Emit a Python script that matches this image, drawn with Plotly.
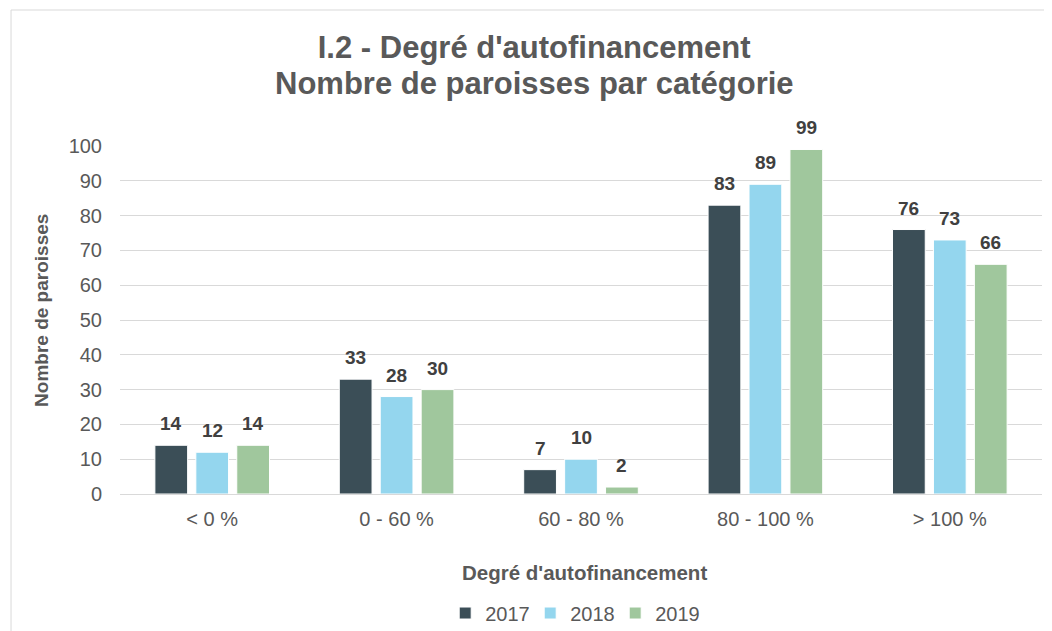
import plotly.graph_objects as go

# === Data ===
categories = ["< 0 %", "0 - 60 %", "60 - 80 %", "80 - 100 %", "> 100 %"]
years = ["2017", "2018", "2019"]
values_2017 = [14, 33, 7, 83, 76]
values_2018 = [12, 28, 10, 89, 73]
values_2019 = [14, 30, 2, 99, 66]
y_ticks = [0, 10, 20, 30, 40, 50, 60, 70, 80, 90, 100]

series = [values_2017, values_2018, values_2019]
colors = ["#3B4E57", "#94D6EE", "#A0C79D"]

FONT = "Liberation Sans, Arial, sans-serif"
GREY = "#595959"

# page body has an 8px margin, so the figure is 8px smaller than the window
W, H = 1044, 623
M_L, M_R, M_T, M_B = 112, 10, 138, 137
plot_w = W - M_L - M_R
BARGAP = 0.334
slot_px = plot_w / len(categories) * (1 - BARGAP) / len(years)

fig = go.Figure()
for year, vals, col in zip(years, series, colors):
    fig.add_trace(go.Bar(
        x=categories,
        y=vals,
        name=year,
        marker=dict(color=col, line=dict(color="white", width=1)),
    ))

# value labels above each bar, placed through the axes
labels = []
for i, vals in enumerate(series):
    offset = (i - 1) * slot_px
    for cat, v in zip(categories, vals):
        labels.append(dict(
            x=cat, y=v, xref="x", yref="y",
            text=f"<b>{v}</b>", showarrow=False,
            xshift=offset, yanchor="bottom", yshift=9,
            font=dict(family=FONT, size=19, color="#404040"),
        ))

fig.update_layout(
    width=W,
    height=H,
    margin=dict(l=M_L, r=M_R, t=M_T, b=M_B, autoexpand=False),
    paper_bgcolor="white",
    plot_bgcolor="white",
    barmode="group",
    bargap=BARGAP,
    bargroupgap=0.2,
    font=dict(family=FONT, color=GREY),
    title=dict(
        text="<b>I.2 - Degré d'autofinancement</b>",
        x=0.504, xanchor="center",
        y=1 - 39 / H, yanchor="middle", yref="container",
        font=dict(family=FONT, size=31, color=GREY),
    ),
    xaxis=dict(
        showline=True, linecolor="#D9D9D9", linewidth=1,
        tickfont=dict(size=20, color=GREY),
        showgrid=False,
        ticklabelstandoff=7,
    ),
    yaxis=dict(
        range=[0, 100],
        tickvals=y_ticks,
        showgrid=True, gridcolor="#D9D9D9", gridwidth=1,
        zeroline=False,
        tickfont=dict(size=20, color=GREY),
        ticklabelstandoff=17,
    ),
    legend=dict(
        orientation="h",
        x=0.491, xanchor="center",
        y=-0.342, yanchor="middle",
        font=dict(size=20, color=GREY),
        itemwidth=30,
        entrywidth=40,
        traceorder="normal",
    ),
    annotations=labels + [
        dict(text="<b>Nombre de paroisses par catégorie</b>", xref="paper", yref="paper",
             x=(0.504 * W - M_L) / plot_w, y=1.181, xanchor="center", yanchor="middle",
             showarrow=False, font=dict(size=31, color=GREY)),
        dict(text="<b>Nombre de paroisses</b>", xref="paper", yref="paper",
             x=-0.0846, y=0.529, xanchor="center", yanchor="middle",
             textangle=-90, showarrow=False,
             font=dict(size=19, color=GREY)),
        dict(text="<b>Degré d'autofinancement</b>", xref="paper", yref="paper",
             x=0.504, y=-0.227, xanchor="center", yanchor="middle",
             showarrow=False, font=dict(size=20.5, color=GREY)),
    ],
    shapes=[
        dict(type="line", xref="paper", yref="paper",
             x0=-0.1182, x1=1.2, y0=1.3908, y1=1.3908,
             line=dict(color="#D9D9D9", width=1)),
        dict(type="line", xref="paper", yref="paper",
             x0=-0.1182, x1=-0.1182, y0=-0.5, y1=1.3908,
             line=dict(color="#D9D9D9", width=1)),
    ],
)

fig.write_html("out.html")
